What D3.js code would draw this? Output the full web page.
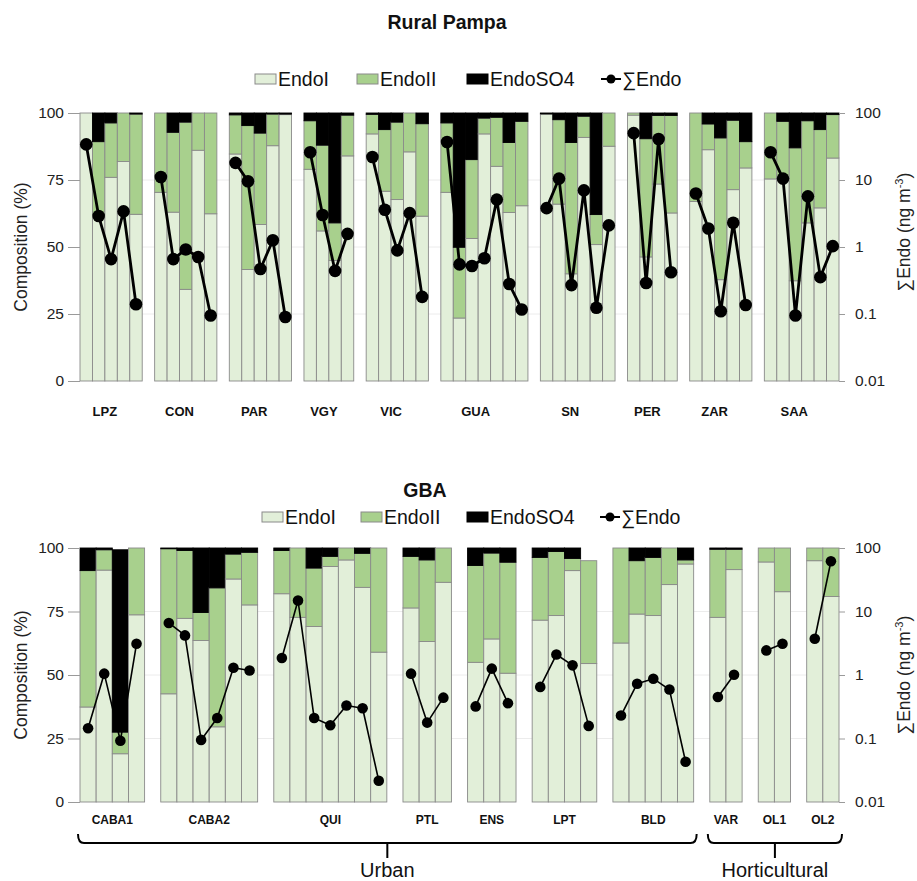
<!DOCTYPE html>
<html>
<head>
<meta charset="utf-8">
<script src="https://cdn.jsdelivr.net/npm/d3@7/dist/d3.min.js"></script>
<style>
  body { margin: 0; background: #fff; }
  svg { display: block; font-family: "Liberation Sans", Arial, sans-serif; }
</style>
</head>
<body>
<svg id="chart" width="917" height="881"></svg>
<script>
// ---------- DATA ----------
const compTicks = [0, 25, 50, 75, 100];
const sumTicks = [0.01, 0.1, 1, 10, 100];
const sumTickLabels = ["0.01", "0.1", "1", "10", "100"];
const seriesNames = ["EndoI", "EndoII", "EndoSO4", "∑Endo"];

// Rural Pampa
const ruralGroups = ["LPZ", "CON", "PAR", "VGY", "VIC", "GUA", "SN", "PER", "ZAR", "SAA"];
const ruralBarCounts = [5, 5, 5, 4, 5, 7, 6, 4, 5, 6];
const ruralEndoI = [
  100, 61, 76, 81.9, 62.2,
  70.4, 63, 34.2, 86.1, 62.4,
  84.7, 41.6, 58.4, 87.8, 99.4,
  79, 56, 45, 84,
  92.2, 70.8, 67.7, 85.5, 61.5,
  70.4, 23.5, 53.2, 92.2, 80.1, 62.9, 65.4,
  99.5, 66, 40, 90.9, 50.9, 87.6,
  99.2, 46.3, 73.5, 62.7,
  67, 86.3, 37.8, 71.4, 79.5,
  75.4, 76, 37.4, 59, 64.6, 83.2
];
const ruralEndoII = [
  0, 28.3, 20.3, 18.1, 37.4,
  29.6, 29.8, 62.4, 13.9, 37.6,
  14.6, 53.7, 34.1, 11.8, 0.2,
  18.1, 32, 14, 15.2,
  7.3, 23, 28.9, 14.5, 34.5,
  25.9, 26.4, 29.4, 5.9, 18.3, 26.1, 31.5,
  0.2, 31.5, 49, 7.9, 11.2, 12.4,
  0.8, 44.1, 25.6, 36.4,
  33, 9.6, 52.9, 25.9, 9.8,
  24.6, 20.9, 49.6, 38.1, 29.2, 16.2
];
const ruralEndoSO4 = [
  0, 10.7, 3.7, 0, 0.4,
  0, 7.2, 3.4, 0, 0,
  0.7, 4.7, 7.5, 0.4, 0.4,
  2.9, 12, 41, 0.8,
  0.5, 6.2, 3.4, 0, 4,
  3.7, 50.1, 17.4, 1.9, 1.6, 11, 3.1,
  0.3, 2.5, 11, 1.2, 37.9, 0,
  0, 9.6, 0.9, 0.9,
  0, 4.1, 9.3, 2.7, 10.7,
  0, 3.1, 13, 2.9, 6.2, 0.6
];
const ruralSumEndo = [
  34, 2.9, 0.66, 3.4, 0.14,
  11.1, 0.66, 0.92, 0.71, 0.095,
  18, 9.6, 0.47, 1.26, 0.09,
  26, 3.0, 0.44, 1.57,
  22, 3.6, 0.89, 3.2, 0.18,
  37, 0.55, 0.52, 0.68, 5.1, 0.28, 0.117,
  3.8, 10.5, 0.27, 7.0, 0.124, 2.1,
  50, 0.29, 41, 0.42,
  6.3, 1.89, 0.11, 2.3, 0.136,
  26, 10.5, 0.095, 5.7, 0.355, 1.03
];

// GBA
const gbaGroups = ["CABA1", "CABA2", "QUI", "PTL", "ENS", "LPT", "BLD", "VAR", "OL1", "OL2"];
const gbaBarCounts = [4, 6, 7, 3, 3, 4, 5, 2, 2, 2];
const gbaEndoI = [
  37.4, 91.3, 19, 73.7,
  42.6, 72.3, 63.6, 29.6, 87.8, 77.6,
  82, 72.7, 69.1, 92.7, 95.3, 84.5, 59,
  76.4, 63.2, 86.5,
  55, 64.2, 50.7,
  71.6, 73.4, 91.1, 54.5,
  62.6, 74, 73.4, 85.6, 93.7,
  72.7, 91.5,
  94.5, 82.8,
  95, 80.9
];
const gbaEndoII = [
  53.7, 8, 8.5, 26.3,
  57.1, 26.7, 11, 54.7, 9.8, 20.7,
  17, 27.3, 23, 4, 4.7, 13.4, 41,
  20.3, 32.1, 13.5,
  38.1, 33.8, 43.7,
  24.7, 25.2, 4.8, 40.5,
  37.4, 21, 22.9, 14.4, 1.6,
  26.8, 8,
  5.5, 17.2,
  5, 19.1
];
const gbaEndoSO4 = [
  8.9, 0.7, 71.8, 0,
  0.3, 1, 25.4, 15.7, 2.4, 1.7,
  1, 0, 7.9, 3.3, 0, 2.1, 0,
  3.3, 4.7, 0,
  6.9, 2, 5.6,
  3.7, 1.4, 4.1, 0,
  0, 5, 3.7, 0, 4.7,
  0.5, 0.5,
  0, 0,
  0, 0
];
const gbaSumEndo = [
  0.145, 1.05, 0.092, 3.1,
  6.6, 4.2, 0.095, 0.21, 1.3, 1.18,
  1.85, 14.9, 0.21, 0.162, 0.33, 0.30, 0.0216,
  1.05, 0.178, 0.44,
  0.32, 1.26, 0.36,
  0.65, 2.1, 1.42, 0.158,
  0.23, 0.73, 0.875, 0.59, 0.043,
  0.45, 1.01,
  2.44, 3.1,
  3.72, 61.8
];
const gbaRegions = ["Urban", "Horticultural"];
const gbaRegionGroups = [["CABA1", "BLD"], ["VAR", "OL2"]];

// ---------- STYLE ----------
const colors = { EndoI: "#e2efd9", EndoII: "#a8d08d", EndoSO4: "#000000" };
const barStroke = "#8a8a8a";

const svg = d3.select("#chart");

function drawPanel(cfg) {
  const g = svg.append("g");
  // build slots (bars + gaps)
  const slots = [];
  const bars = [];
  const groupInfo = [];
  let k = 0;
  cfg.groups.forEach((name, gi) => {
    const ids = [];
    for (let j = 0; j < cfg.counts[gi]; j++) {
      const id = name + "_" + j;
      slots.push(id); ids.push(id);
      bars.push({ id, group: name, gi,
        I: cfg.endoI[k], II: cfg.endoII[k], S: cfg.endoSO4[k], sum: cfg.sum[k] });
      k++;
    }
    groupInfo.push({ name, ids });
    if (gi < cfg.groups.length - 1) slots.push("gap" + gi);
  });

  const x = d3.scaleBand().domain(slots).range([cfg.x0, cfg.x1]).padding(0);
  const y = d3.scaleLinear().domain([0, 100]).range([cfg.yBottom, cfg.yTop]);
  const yLog = d3.scaleLog().domain([0.01, 100]).range([cfg.yBottom, cfg.yTop]);

  // faint grid
  g.append("g").selectAll("line").data(compTicks.filter(t => t > 0 && t < 100)).join("line")
    .attr("x1", cfg.x0).attr("x2", cfg.x1)
    .attr("y1", d => y(d)).attr("y2", d => y(d))
    .attr("stroke", "#ececec").attr("stroke-width", 1);

  // stacked bars
  const segs = [];
  bars.forEach(b => {
    segs.push({ id: b.id, key: "EndoI", y0: 0, y1: b.I });
    segs.push({ id: b.id, key: "EndoII", y0: b.I, y1: b.I + b.II });
    if (b.S > 0) segs.push({ id: b.id, key: "EndoSO4", y0: b.I + b.II, y1: b.I + b.II + b.S });
  });
  g.append("g").selectAll("rect").data(segs).join("rect")
    .attr("x", d => x(d.id))
    .attr("width", x.bandwidth())
    .attr("y", d => y(Math.min(d.y1, 100)))
    .attr("height", d => Math.max(0, y(d.y0) - y(Math.min(d.y1, 100))))
    .attr("fill", d => colors[d.key])
    .attr("stroke", d => d.key === "EndoSO4" ? "#000" : barStroke)
    .attr("stroke-width", 0.9);

  // left axis
  const la = g.append("g").attr("transform", `translate(${cfg.x0},0)`)
    .call(d3.axisLeft(y).tickValues(compTicks).tickSize(cfg.tickLeft).tickPadding(4));
  la.select(".domain").remove();
  la.selectAll(".tick line").attr("stroke", "#9a9a9a");
  la.selectAll(".tick text").attr("font-size", 15.5).attr("fill", "#222")
    .attr("font-family", "Liberation Sans, Arial, sans-serif");

  // right axis
  const ra = g.append("g").attr("transform", `translate(${cfg.x1},0)`)
    .call(d3.axisRight(yLog).tickValues(sumTicks).tickFormat((d, i) => sumTickLabels[i])
      .tickSize(6).tickPadding(10));
  ra.select(".domain").remove();
  ra.selectAll(".tick line").attr("stroke", "#9a9a9a");
  ra.selectAll(".tick text").attr("font-size", 15.5).attr("fill", "#222")
    .attr("font-family", "Liberation Sans, Arial, sans-serif");

  // sum lines per group
  const line = d3.line().x(d => x(d.id) + x.bandwidth() / 2).y(d => yLog(d.sum));
  groupInfo.forEach(gr => {
    const pts = bars.filter(b => b.group === gr.name);
    g.append("path").datum(pts).attr("d", line)
      .attr("fill", "none").attr("stroke", "#000").attr("stroke-width", cfg.lineW)
      .attr("stroke-linejoin", "round");
    g.append("g").selectAll("circle").data(pts).join("circle")
      .attr("cx", d => x(d.id) + x.bandwidth() / 2)
      .attr("cy", d => yLog(d.sum))
      .attr("r", cfg.dotR).attr("fill", "#000");
  });

  // group labels
  groupInfo.forEach(gr => {
    const gx0 = x(gr.ids[0]);
    const gx1 = x(gr.ids[gr.ids.length - 1]) + x.bandwidth();
    g.append("text")
      .attr("x", gx0 + (gx1 - gx0) * cfg.labelFrac)
      .attr("y", cfg.labelY)
      .attr("text-anchor", "middle")
      .attr("font-weight", "bold")
      .attr("font-size", cfg.labelSize)
      .attr("fill", "#111")
      .text(gr.name);
  });

  // axis titles
  const cy = (cfg.yTop + cfg.yBottom) / 2;
  g.append("text")
    .attr("transform", `translate(27,${cy}) rotate(-90)`)
    .attr("text-anchor", "middle").attr("font-size", 17.5).attr("fill", "#222")
    .text("Composition (%)");
  const rt = g.append("text")
    .attr("transform", `translate(910,${cfg.rightTitleY}) rotate(-90)`)
    .attr("text-anchor", "middle").attr("font-size", 17.5).attr("fill", "#222");
  rt.append("tspan").text("∑Endo (ng m");
  rt.append("tspan").attr("font-size", 11).attr("dy", -7).text("-3");
  rt.append("tspan").attr("dy", 7).text(")");

  // title
  svg.append("text").attr("x", cfg.titleX).attr("y", cfg.titleY)
    .attr("text-anchor", "middle").attr("font-weight", "bold")
    .attr("font-size", 19.5).attr("fill", "#111").text(cfg.title);

  // legend
  const lg = svg.append("g");
  const lx = cfg.legendX;
  const ly = cfg.legendY;
  const items = [
    { name: seriesNames[0], type: "rect", c: colors.EndoI, sx: lx[0], tx: lx[0] + 23 },
    { name: seriesNames[1], type: "rect", c: colors.EndoII, sx: lx[1], tx: lx[1] + 23 },
    { name: seriesNames[2], type: "rect", c: colors.EndoSO4, sx: lx[2], tx: lx[2] + 23 },
    { name: seriesNames[3], type: "line", sx: lx[3], tx: lx[3] + 21 }
  ];
  items.forEach(it => {
    if (it.type === "rect") {
      lg.append("rect").attr("x", it.sx).attr("y", ly - 5).attr("width", 21).attr("height", 10)
        .attr("fill", it.c).attr("stroke", it.c === "#000000" ? "#000" : "#8a8a8a").attr("stroke-width", 1);
    } else {
      lg.append("line").attr("x1", it.sx).attr("x2", it.sx + 20).attr("y1", ly).attr("y2", ly)
        .attr("stroke", "#000").attr("stroke-width", 2);
      lg.append("circle").attr("cx", it.sx + 10).attr("cy", ly).attr("r", 4.5).attr("fill", "#000");
    }
    lg.append("text").attr("x", it.tx).attr("y", ly + 7).attr("font-size", 19.5)
      .attr("fill", "#111").text(it.name);
  });

  return { x, groupInfo };
}

// Rural Pampa panel
drawPanel({
  title: "Rural Pampa", titleX: 447, titleY: 29,
  legendX: [255, 357, 467, 601], legendY: 79,
  groups: ruralGroups, counts: ruralBarCounts,
  endoI: ruralEndoI, endoII: ruralEndoII, endoSO4: ruralEndoSO4, sum: ruralSumEndo,
  x0: 80, x1: 839, yTop: 113, yBottom: 381,
  tickLeft: 12, lineW: 2.8, dotR: 6.3,
  labelY: 416, labelSize: 13, labelFrac: 0.4,
  rightTitleY: 232
});

// GBA panel
const gbaPanel = drawPanel({
  title: "GBA", titleX: 425, titleY: 497,
  legendX: [262, 361, 467, 600], legendY: 517,
  groups: gbaGroups, counts: gbaBarCounts,
  endoI: gbaEndoI, endoII: gbaEndoII, endoSO4: gbaEndoSO4, sum: gbaSumEndo,
  x0: 80, x1: 839, yTop: 548, yBottom: 802,
  tickLeft: 12, lineW: 1.6, dotR: 5.3,
  labelY: 824, labelSize: 12, labelFrac: 0.5,
  rightTitleY: 675
});

// region brackets
gbaRegions.forEach((name, i) => {
  const gx = gbaPanel.x;
  const first = gbaPanel.groupInfo.find(g => g.name === gbaRegionGroups[i][0]);
  const last = gbaPanel.groupInfo.find(g => g.name === gbaRegionGroups[i][1]);
  const bx0 = gx(first.ids[0]) - 2;
  const bx1 = gx(last.ids[last.ids.length - 1]) + gx.bandwidth() + 3;
  const mid = (bx0 + bx1) / 2;
  const by = 843;
  const path = d3.path();
  path.moveTo(bx0, by - 9);
  path.quadraticCurveTo(bx0, by, bx0 + 6, by);
  path.lineTo(bx1 - 6, by);
  path.quadraticCurveTo(bx1, by, bx1, by - 9);
  path.moveTo(mid, by);
  path.lineTo(mid, by + 15);
  svg.append("path").attr("d", path.toString()).attr("fill", "none")
    .attr("stroke", "#000").attr("stroke-width", 2);
  svg.append("text").attr("x", mid).attr("y", 877).attr("text-anchor", "middle")
    .attr("font-size", 20).attr("fill", "#111").text(name);
});
</script>
</body>
</html>
